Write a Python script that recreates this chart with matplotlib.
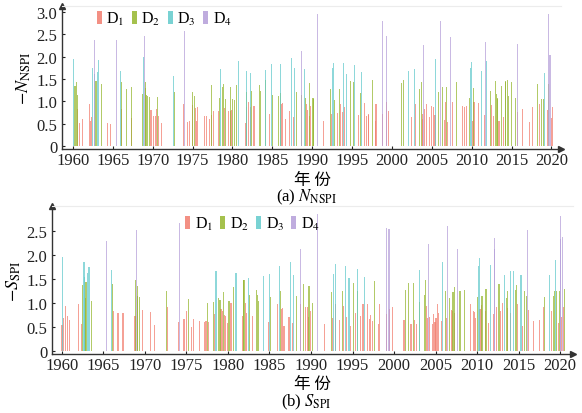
import matplotlib
matplotlib.use('Agg')
import matplotlib.pyplot as plt
from matplotlib.patches import Patch

plt.rcParams['font.family'] = ['Liberation Serif', 'Noto Sans CJK SC', 'DejaVu Sans']
plt.rcParams['mathtext.fontset'] = 'stix'

# ---- (a) N_NSPI, bars by drought class ----
n_d1_year = [1960.55, 1960.8, 1961.2, 1962.05, 1962.2, 1962.35, 1964.35, 1964.65, 1966.1, 1967.3,
             1969.75, 1969.9, 1970.1, 1970.4, 1970.5, 1970.7, 1971.1, 1973.85, 1974.35, 1974.6,
             1975.0, 1975.4, 1975.45, 1975.6, 1976.45, 1976.8, 1977.1, 1977.35, 1977.6, 1978.2,
             1979.0, 1979.5, 1979.7, 1979.9, 1981.6, 1981.8, 1982.0, 1982.2, 1982.7, 1984.65,
             1986.1, 1986.3, 1986.6, 1987.2, 1987.65, 1989.3, 1989.45, 1989.65, 1989.8, 1991.4,
             1992.4, 1993.2, 1993.55, 1993.8, 1994.05, 1995.85, 1996.5, 1996.8, 1997.0, 1997.1,
             1997.95, 1998.0, 1998.8, 1999.36, 1999.6, 2002.4, 2002.9, 2003.8, 2003.85, 2004.1,
             2004.3, 2004.7, 2005.0, 2005.15, 2005.4, 2006.6, 2006.75, 2007.0, 2007.6, 2008.9,
             2009.1, 2009.3, 2010.1, 2010.2, 2010.3, 2010.8, 2011.6, 2012.45, 2012.75, 2013.35,
             2013.45, 2014.0, 2015.8, 2016.4, 2017.25, 2017.65, 2018.5, 2019.45, 2020.05, 2020.1]
n_d1_val = [0.82, 0.52, 0.60, 0.95, 0.55, 0.65, 0.52, 0.50, 0.82, 0.62,
            0.80, 0.80, 0.66, 0.66, 0.82, 0.68, 0.52, 0.94, 0.53, 0.55,
            0.92, 0.84, 0.55, 0.88, 0.67, 0.67, 0.60, 0.70, 0.78, 0.78,
            0.85, 0.78, 0.78, 0.81, 0.52, 0.88, 0.98, 0.88, 0.90, 0.72,
            0.93, 0.97, 0.60, 0.78, 0.64, 0.94, 0.80, 0.68, 0.90, 0.57,
            0.72, 0.73, 0.94, 0.75, 0.88, 0.70, 0.96, 0.68, 0.72, 0.70,
            0.55, 0.94, 0.72, 0.98, 0.79, 0.64, 0.94, 0.72, 0.60, 0.83,
            0.94, 0.64, 0.89, 0.87, 0.70, 0.59, 0.98, 0.53, 0.98, 0.89,
            0.88, 0.89, 0.55, 0.98, 0.98, 0.97, 0.70, 0.92, 0.68, 0.57,
            0.57, 0.64, 0.77, 0.83, 0.53, 0.87, 0.94, 0.80, 0.62, 0.87]
n_d2_year = [1960.25, 1960.4, 1960.55, 1962.85, 1962.95, 1963.6, 1966.07, 1966.7, 1967.3, 1968.7,
             1969.1, 1969.15, 1969.2, 1969.35, 1969.6, 1970.6, 1972.7, 1974.94, 1975.2, 1977.32,
             1978.4, 1978.8, 1978.9, 1979.1, 1979.7, 1980.0, 1980.25, 1980.5, 1981.7, 1982.4,
             1983.4, 1983.5, 1984.1, 1985.0, 1985.8, 1986.05, 1988.0, 1988.6, 1989.2, 1989.6,
             1990.1, 1990.2, 1992.25, 1992.75, 1993.4, 1994.8, 1995.2, 1996.06, 1997.5, 2001.25,
             2001.45, 2003.5, 2003.65, 2005.85, 2006.35, 2006.8, 2008.15, 2009.7, 2010.25, 2012.3,
             2012.96, 2013.1, 2013.2, 2013.25, 2013.7, 2014.2, 2014.3, 2014.5, 2014.6, 2015.05,
             2015.5, 2018.3, 2018.8, 2019.0, 2019.6]
n_d2_val = [1.35, 1.43, 1.15, 1.45, 1.45, 1.38, 1.43, 1.27, 1.32, 1.17,
            1.42, 1.30, 1.13, 1.12, 1.10, 1.10, 1.20, 1.20, 1.12, 1.36,
            1.08, 1.32, 1.38, 1.05, 1.32, 1.05, 1.02, 1.37, 1.20, 1.22,
            1.37, 1.22, 1.48, 1.15, 1.12, 1.18, 1.20, 1.13, 1.08, 1.40,
            1.08, 1.05, 1.27, 1.03, 1.28, 1.46, 1.44, 1.18, 1.48, 1.41,
            1.48, 1.28, 1.43, 1.20, 1.31, 1.31, 1.44, 1.08, 1.29, 1.24,
            1.46, 1.17, 1.08, 1.05, 1.35, 1.46, 1.44, 1.48, 1.11, 1.43,
            1.08, 1.39, 1.05, 1.05, 1.39]
n_d3_year = [1960.1, 1962.5, 1962.75, 1963.05, 1963.2, 1966.0, 1968.8, 1972.55, 1978.5, 1980.8,
             1981.75, 1982.3, 1984.2, 1984.9, 1985.98, 1987.44, 1987.77, 1989.0, 1992.55, 1992.7,
             1993.9, 1994.35, 1995.3, 1996.15, 2002.1, 2002.8, 2005.5, 2009.8, 2009.95, 2011.25,
             2011.8, 2019.15]
n_d3_val = [1.95, 1.75, 1.60, 1.65, 1.93, 1.68, 1.98, 1.57, 1.72, 1.90,
            1.68, 1.63, 1.70, 1.83, 1.83, 1.97, 1.74, 1.72, 1.74, 1.86,
            1.86, 1.61, 1.80, 1.65, 1.67, 1.73, 1.94, 1.74, 1.88, 1.67,
            1.90, 1.64]
n_d4_year = [1962.7, 1965.4, 1968.95, 1973.93, 1988.6, 1990.66, 1998.8, 1999.3, 2004.0, 2006.1,
             2007.3, 2011.75, 2015.7, 2019.65, 2019.7, 2019.85]
n_d4_val = [2.38, 2.38, 2.47, 2.58, 2.13, 2.95, 2.79, 2.45, 2.26, 2.79,
            2.44, 2.32, 2.29, 2.94, 2.03, 2.03]

# ---- (b) S_SPI ----
s_d1_year = [1960.0, 1960.2, 1960.45, 1960.65, 1960.9, 1961.95, 1962.4, 1966.2, 1966.65, 1966.8,
             1967.35, 1968.8, 1969.7, 1970.65, 1971.1, 1972.75, 1974.0, 1974.7, 1975.0, 1975.6,
             1975.8, 1976.6, 1977.2, 1977.35, 1977.7, 1978.35, 1979.16, 1979.3, 1979.56, 1979.65,
             1979.9, 1980.36, 1981.77, 1982.1, 1982.25, 1982.93, 1984.86, 1985.95, 1986.4, 1986.55,
             1986.75, 1987.35, 1987.8, 1988.7, 1989.3, 1989.6, 1989.7, 1989.9, 1991.6, 1992.6,
             1993.0, 1993.4, 1993.86, 1994.26, 1994.8, 1995.4, 1996.0, 1996.23, 1996.35, 1996.75,
             1997.0, 1997.15, 1997.4, 1998.1, 1998.2, 1999.12, 1999.5, 1999.8, 2001.2, 2001.93,
             2002.1, 2002.5, 2002.7, 2003.95, 2004.05, 2004.3, 2004.6, 2004.74, 2004.94, 2005.06,
             2005.2, 2005.35, 2005.75, 2006.27, 2006.87, 2007.03, 2007.3, 2009.16, 2009.56, 2009.68,
             2009.76, 2010.36, 2010.52, 2011.0, 2011.37, 2011.97, 2012.37, 2012.78, 2013.1, 2013.66,
             2014.06, 2014.9, 2015.46, 2016.15, 2016.8, 2017.47, 2018.0, 2018.92, 2019.8, 2020.2,
             2020.4]
s_d1_val = [0.55, 0.68, 0.94, 0.72, 0.65, 0.98, 0.56, 0.84, 0.79, 0.79,
            0.79, 0.73, 0.85, 0.82, 0.55, 0.92, 0.60, 0.67, 0.83, 0.50,
            0.67, 0.62, 0.60, 0.63, 0.60, 0.78, 0.88, 0.84, 0.74, 0.73,
            0.58, 0.99, 0.72, 0.99, 0.80, 0.73, 0.60, 0.98, 0.87, 0.90,
            0.53, 0.70, 0.58, 0.98, 0.91, 0.91, 0.70, 0.83, 0.56, 0.68,
            0.97, 0.64, 0.94, 0.70, 0.53, 0.80, 0.72, 0.97, 0.97, 0.98,
            0.66, 0.74, 0.63, 0.56, 0.98, 0.77, 0.87, 0.91, 0.65, 0.56,
            0.56, 0.65, 0.56, 0.93, 0.69, 0.70, 0.56, 0.78, 0.60, 0.68,
            0.98, 0.80, 0.63, 0.68, 0.85, 0.84, 0.80, 0.97, 0.83, 0.82,
            0.69, 0.87, 0.96, 0.84, 0.58, 0.77, 0.91, 0.83, 0.99, 0.90,
            0.80, 0.98, 0.53, 0.85, 0.63, 0.65, 0.92, 0.84, 0.58, 0.70,
            0.91]
s_d2_year = [1962.5, 1962.85, 1962.9, 1963.55, 1966.1, 1968.9, 1969.1, 1969.15, 1969.3, 1972.55,
             1975.2, 1977.5, 1978.2, 1978.84, 1979.04, 1979.44, 1980.08, 1980.2, 1980.65, 1981.85,
             1981.93, 1982.57, 1983.46, 1983.58, 1983.66, 1985.1, 1986.27, 1988.2, 1989.1, 1989.76,
             1990.16, 1992.5, 1993.8, 1995.1, 1995.6, 1997.6, 2001.33, 2001.73, 2002.3, 2003.1,
             2003.65, 2003.8, 2006.2, 2006.67, 2007.1, 2007.23, 2007.95, 2008.44, 2010.04, 2010.6,
             2011.08, 2012.65, 2013.5, 2013.62, 2014.58, 2014.78, 2015.7, 2015.99, 2018.12, 2019.2,
             2019.32, 2019.6, 2019.92, 2020.5]
s_d2_val = [1.38, 1.10, 1.43, 1.04, 1.40, 1.48, 1.36, 1.15, 1.13, 1.25,
            1.08, 1.01, 1.02, 1.10, 1.07, 1.22, 1.05, 1.05, 1.33, 1.48,
            1.48, 1.17, 1.27, 1.17, 1.05, 1.13, 1.24, 1.14, 1.39, 1.35,
            1.01, 1.22, 1.24, 1.41, 1.25, 1.45, 1.28, 1.42, 1.41, 1.03,
            1.17, 1.47, 1.24, 1.10, 1.22, 1.34, 1.24, 1.27, 1.12, 1.15,
            1.29, 1.39, 1.10, 1.24, 1.28, 1.37, 1.24, 1.15, 1.13, 1.15,
            1.24, 1.24, 1.24, 1.29]
s_d3_year = [1960.1, 1962.65, 1962.75, 1963.1, 1963.2, 1963.28, 1966.0, 1978.56, 1980.93, 1981.05,
             1982.45, 1984.26, 1984.98, 1986.15, 1987.55, 1987.9, 1992.73, 1992.9, 1994.14, 1994.58,
             1995.55, 1996.43, 2003.05, 2005.83, 2010.2, 2010.28, 2011.65, 2013.3, 2013.98, 2014.38,
             2015.3, 2018.72, 2019.48]
s_d3_val = [1.95, 1.85, 1.55, 1.63, 1.75, 1.75, 1.68, 1.66, 1.63, 1.63,
            1.52, 1.56, 1.61, 1.77, 1.85, 1.58, 1.60, 1.82, 1.77, 1.53,
            1.70, 1.54, 1.68, 1.86, 1.77, 1.93, 1.80, 1.58, 1.66, 1.66,
            1.58, 1.58, 1.89]
s_d4_year = [1965.4, 1969.0, 1974.15, 1988.7, 1990.8, 1999.1, 1999.4, 2004.2, 2006.47, 2007.63,
             2012.05, 2012.13, 2016.07, 2020.0, 2020.08, 2020.3]
s_d4_val = [2.30, 2.52, 2.67, 2.12, 2.85, 2.57, 2.55, 2.23, 2.60, 2.13,
            2.36, 2.13, 2.51, 2.82, 2.33, 2.38]

colors = ['#f27d6e', '#95b62e', '#62cacc', '#b49ed9']
labels = ['D$_1$', 'D$_2$', 'D$_3$', 'D$_4$']
bw = 0.13


def draw_panel(ax, series, xlim, ylim, yticks, ylabels, leg_xy):
    for (yr, v), c in zip(series, colors):
        ax.bar(yr, v, width=bw, color=c, alpha=0.72, linewidth=0)
    ax.set_xlim(*xlim)
    ax.set_ylim(*ylim)
    ax.set_xticks(range(1960, 2021, 5))
    ax.set_yticks(yticks, ylabels)
    ax.tick_params(labelsize=12, direction='in', length=2.5, width=0.8, colors='#222222')
    ax.tick_params(axis='x', pad=2)
    for s in ['left', 'bottom']:
        ax.spines[s].set_color('#333333')
        ax.spines[s].set_linewidth(1.0)
    ax.spines['top'].set_color('#ececec')
    ax.spines['right'].set_visible(False)
    ax.plot(1, 0, '>', color='#333333', ms=4, transform=ax.transAxes, clip_on=False)
    ax.plot(0, 1, '^', color='#333333', ms=4, transform=ax.transAxes, clip_on=False)
    handles = [Patch(color=c, alpha=0.85, linewidth=0) for c in colors]
    ax.legend(handles, labels, loc='center', bbox_to_anchor=leg_xy, ncol=4, frameon=False,
              fontsize=11.5, handlelength=0.3, handleheight=0.9, handletextpad=0.3,
              columnspacing=0.45, borderaxespad=0)


fig = plt.figure(figsize=(5.82, 4.14), dpi=100)

ax1 = fig.add_axes([62 / 582, 1 - 150 / 414, 499 / 582, 143 / 414])
draw_panel(ax1,
           [(n_d1_year, n_d1_val), (n_d2_year, n_d2_val), (n_d3_year, n_d3_val), (n_d4_year, n_d4_val)],
           (1958.62, 2021.2), (-0.067, 3.13),
           [0, 0.5, 1.0, 1.5, 2.0, 2.5, 3.0], ['0', '0.5', '1.0', '1.5', '2.0', '2.5', '3.0'],
           (0.205, 0.91))
ax1.set_ylabel(r'$-N_{\mathrm{NSPI}}$', fontsize=13, labelpad=2)

ax2 = fig.add_axes([52 / 582, 1 - 355 / 414, 521 / 582, 148 / 414])
draw_panel(ax2,
           [(s_d1_year, s_d1_val), (s_d2_year, s_d2_val), (s_d3_year, s_d3_val), (s_d4_year, s_d4_val)],
           (1958.8, 2021.56), (-0.0625, 3.02),
           [0, 0.5, 1.0, 1.5, 2.0, 2.5], ['0', '0.5', '1.0', '1.5', '2.0', '2.5'],
           (0.385, 0.88))
ax2.set_ylabel(r'$-S_{\mathrm{SPI}}$', fontsize=13, labelpad=2)

fig.text(312 / 582, 1 - 180 / 414, '年 份', ha='center', va='center', fontsize=12,
         family=['Noto Sans CJK SC', 'DejaVu Sans'])
fig.text(306 / 582, 1 - 197 / 414, r'(a) $N_{\mathrm{NSPI}}$', ha='center', va='center', fontsize=12)
fig.text(312 / 582, 1 - 384 / 414, '年 份', ha='center', va='center', fontsize=12,
         family=['Noto Sans CJK SC', 'DejaVu Sans'])
fig.text(306 / 582, 1 - 402 / 414, r'(b) $S_{\mathrm{SPI}}$', ha='center', va='center', fontsize=12)

fig.savefig('out.png', dpi=100)
